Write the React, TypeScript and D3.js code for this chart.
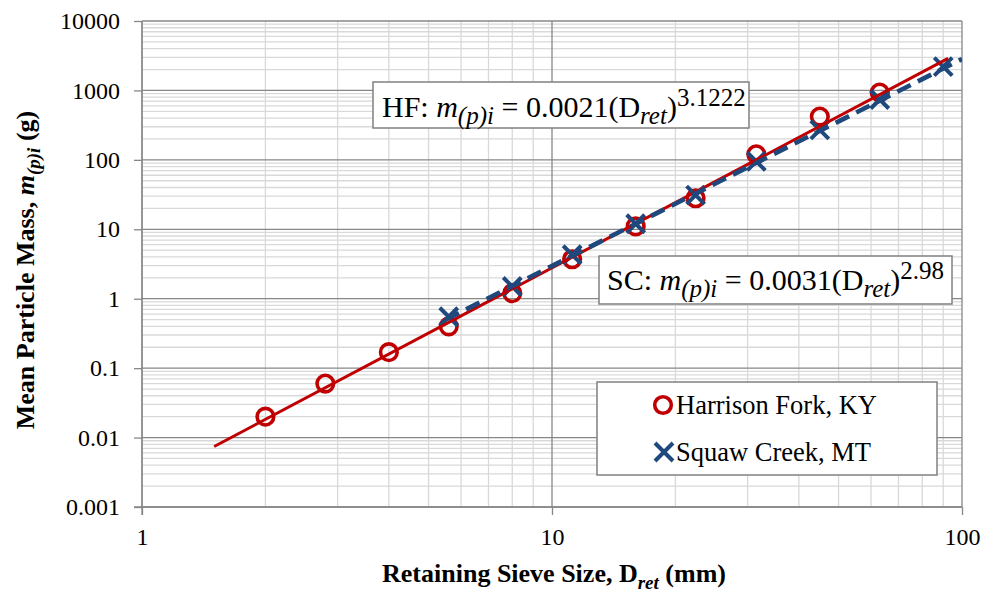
import * as d3 from "d3";
import { useEffect, useRef } from "react";

// Harrison Fork, KY
const hfSize = [2, 2.8, 4, 5.6, 8, 11.2, 16, 22.4, 31.5, 45, 63];
const hfMass = [0.02, 0.06, 0.17, 0.4, 1.2, 3.7, 11, 28, 120, 420, 930];
// Squaw Creek, MT
const scSize = [5.6, 8, 11.2, 16, 22.4, 31.5, 45, 63, 90];
const scMass = [0.55, 1.5, 4.3, 12, 31, 95, 270, 740, 2200];

// power trendlines m = a * D^b, drawn over [from, to]
const hfFit = { a: 0.0021, b: 3.1222, from: 1.5, to: 92.5 };
const scFit = { a: 0.0031, b: 2.98, from: 5.5, to: 100 };

const xTicks = [1, 10, 100];
const xTickLabels = ["1", "10", "100"];
const yTicks = [0.001, 0.01, 0.1, 1, 10, 100, 1000, 10000];
const yTickLabels = ["0.001", "0.01", "0.1", "1", "10", "100", "1000", "10000"];

const RED = "#C00000";
const BLUE = "#1F497D";
const FONT = "Liberation Serif";

type Seg = { t: string; it?: boolean; sub?: boolean; sup?: boolean };

function richText(g: any, x: number, y: number, size: number, segs: Seg[], bold = false, ratio = 0.74) {
   const small = Math.round(size * ratio);
   const text = g
      .append("text")
      .attr("x", x)
      .attr("y", y)
      .style("font-size", size + "px")
      .style("font-family", FONT)
      .style("font-weight", bold ? "bold" : "normal")
      .style("white-space", "pre");
   let shift = 0;
   segs.forEach((s) => {
      const target = s.sub ? size * 0.25 : s.sup ? -size * 0.36 : 0;
      text
         .append("tspan")
         .attr("dy", target - shift)
         .style("font-size", (s.sub || s.sup ? small : size) + "px")
         .style("font-style", s.it ? "italic" : "normal")
         .text(s.t);
      shift = target;
   });
   return text;
}

function App() {
   const ref = useRef<SVGSVGElement>(null);

   useEffect(() => {
      const width = 987;
      const height = 592;
      const margin = { top: 21, right: 25, bottom: 85, left: 142 };
      const innerWidth = width - margin.left - margin.right;
      const innerHeight = height - margin.top - margin.bottom;

      const svg = d3.select(ref.current);
      svg.selectAll("*").remove();
      svg.attr("width", width).attr("height", height).style("font-family", FONT);

      const x = d3.scaleLog().domain([1, 100]).range([0, innerWidth]);
      const y = d3.scaleLog().domain([0.001, 10000]).range([innerHeight, 0]);

      const isMajor = (v: number) => Math.abs(Math.log10(v) - Math.round(Math.log10(v))) < 1e-9;

      const plot = svg
         .append("g")
         .attr("transform", `translate(${margin.left},${margin.top})`);

      plot
         .append("clipPath")
         .attr("id", "plot-clip")
         .append("rect")
         .attr("width", innerWidth)
         .attr("height", innerHeight);

      // minor grid
      const grid = plot.append("g");
      grid
         .selectAll(".vminor")
         .data(x.ticks().filter((v) => !isMajor(v)))
         .enter()
         .append("line")
         .attr("x1", (d) => x(d))
         .attr("x2", (d) => x(d))
         .attr("y1", 0)
         .attr("y2", innerHeight)
         .attr("stroke", "#d9d9d9")
         .attr("stroke-width", 1.3);
      grid
         .selectAll(".hminor")
         .data(y.ticks().filter((v) => !isMajor(v)))
         .enter()
         .append("line")
         .attr("x1", 0)
         .attr("x2", innerWidth)
         .attr("y1", (d) => y(d))
         .attr("y2", (d) => y(d))
         .attr("stroke", "#d9d9d9")
         .attr("stroke-width", 1.3);
      // major grid
      grid
         .selectAll(".vmajor")
         .data(xTicks)
         .enter()
         .append("line")
         .attr("x1", (d) => x(d))
         .attr("x2", (d) => x(d))
         .attr("y1", 0)
         .attr("y2", innerHeight)
         .attr("stroke", "#878787")
         .attr("stroke-width", 1.3);
      grid
         .selectAll(".hmajor")
         .data(yTicks)
         .enter()
         .append("line")
         .attr("x1", 0)
         .attr("x2", innerWidth)
         .attr("y1", (d) => y(d))
         .attr("y2", (d) => y(d))
         .attr("stroke", "#878787")
         .attr("stroke-width", 1.3);

      // axes
      const xAxis = d3
         .axisBottom(x)
         .tickValues(xTicks)
         .tickFormat((d, i) => xTickLabels[i])
         .tickSize(8)
         .tickPadding(13);
      const yAxis = d3
         .axisLeft(y)
         .tickValues(yTicks)
         .tickFormat((d, i) => yTickLabels[i])
         .tickSize(8)
         .tickPadding(14);

      const xAxisG = plot
         .append("g")
         .attr("transform", `translate(0,${innerHeight})`)
         .call(xAxis);
      const yAxisG = plot.append("g").call(yAxis);
      [xAxisG, yAxisG].forEach((g) => {
         g.attr("font-family", null).attr("font-size", null);
         g.selectAll(".domain").remove();
         g.selectAll(".tick line").attr("stroke", "#878787").attr("stroke-width", 1.3);
         g.selectAll(".tick text")
            .style("font-size", "24px")
            .style("font-family", FONT)
            .attr("fill", "#000");
      });
      plot
         .append("line")
         .attr("x1", 0)
         .attr("x2", 0)
         .attr("y1", 0)
         .attr("y2", innerHeight + 8)
         .attr("stroke", "#878787")
         .attr("stroke-width", 1.3);
      plot
         .append("line")
         .attr("x1", -8)
         .attr("x2", innerWidth)
         .attr("y1", innerHeight)
         .attr("y2", innerHeight)
         .attr("stroke", "#878787")
         .attr("stroke-width", 1.3);

      // markers
      const hfPts = hfSize.map((s, i) => [s, hfMass[i]]);
      const scPts = scSize.map((s, i) => [s, scMass[i]]);

      plot
         .selectAll(".hf")
         .data(hfPts)
         .enter()
         .append("circle")
         .attr("cx", (d) => x(d[0]))
         .attr("cy", (d) => y(d[1]))
         .attr("r", 8.3)
         .attr("fill", "none")
         .attr("stroke", RED)
         .attr("stroke-width", 3.6);

      const cross = (g: any, cx: number, cy: number) => {
         const h = 9;
         g.append("path")
            .attr("d", `M${cx - h},${cy - h}L${cx + h},${cy + h}M${cx - h},${cy + h}L${cx + h},${cy - h}`)
            .attr("stroke", BLUE)
            .attr("stroke-width", 4)
            .attr("fill", "none");
      };
      const scG = plot.append("g");
      scPts.forEach((d) => cross(scG, x(d[0]), y(d[1])));

      // trendlines
      const fitPath = (f: typeof hfFit) =>
         d3
            .line<number>()
            .x((d) => x(d))
            .y((d) => y(f.a * Math.pow(d, f.b)))([f.from, f.to]);
      const lines = plot.append("g").attr("clip-path", "url(#plot-clip)");
      lines
         .append("path")
         .attr("d", fitPath(hfFit))
         .attr("fill", "none")
         .attr("stroke", RED)
         .attr("stroke-width", 3);
      lines
         .append("path")
         .attr("d", fitPath(scFit))
         .attr("fill", "none")
         .attr("stroke", BLUE)
         .attr("stroke-width", 4.6)
         .attr("stroke-dasharray", "15,8");

      // equation boxes
      const ann = svg.append("g");
      ann.append("rect")
         .attr("x", 373).attr("y", 82).attr("width", 376).attr("height", 46)
         .attr("fill", "#fff").attr("stroke", "#808080").attr("stroke-width", 1.5);
      richText(ann, 382, 116.5, 30, [
         { t: "HF: " },
         { t: "m", it: true },
         { t: "(p)i", it: true, sub: true },
         { t: " = 0.0021(D" },
         { t: "ret", it: true, sub: true },
         { t: ")" },
         { t: "3.1222", sup: true },
      ], false, 0.83);
      ann.append("rect")
         .attr("x", 599).attr("y", 256).attr("width", 353).attr("height", 48)
         .attr("fill", "#fff").attr("stroke", "#808080").attr("stroke-width", 1.5);
      richText(ann, 607, 289.5, 30, [
         { t: "SC: " },
         { t: "m", it: true },
         { t: "(p)i", it: true, sub: true },
         { t: " = 0.0031(D" },
         { t: "ret", it: true, sub: true },
         { t: ")" },
         { t: "2.98", sup: true },
      ], false, 0.83);

      // legend
      const legend = svg.append("g");
      legend.append("rect")
         .attr("x", 597).attr("y", 382).attr("width", 340).attr("height", 93)
         .attr("fill", "#fff").attr("stroke", "#808080").attr("stroke-width", 1.5);
      legend.append("circle")
         .attr("cx", 663).attr("cy", 405).attr("r", 8.3)
         .attr("fill", "none").attr("stroke", RED).attr("stroke-width", 3.6);
      legend.append("text")
         .attr("x", 676).attr("y", 413.5)
         .style("font-size", "26.5px").style("font-family", FONT)
         .text("Harrison Fork, KY");
      cross(legend, 664, 452);
      legend.append("text")
         .attr("x", 676).attr("y", 460.5)
         .style("font-size", "26.5px").style("font-family", FONT)
         .text("Squaw Creek, MT");

      // axis titles
      const xTitle = richText(svg, 0, 582, 26, [
         { t: "Retaining Sieve Size, D" },
         { t: "ret", it: true, sub: true },
         { t: " (mm)" },
      ], true);
      const xw = (xTitle.node() as SVGTextElement).getComputedTextLength();
      xTitle.attr("x", margin.left + innerWidth / 2 - xw / 2 + 2);

      const yTitle = richText(svg, 0, 0, 26, [
         { t: "Mean Particle Mass, " },
         { t: "m", it: true },
         { t: "(p)i", it: true, sub: true },
         { t: " (g)" },
      ], true);
      const yw = (yTitle.node() as SVGTextElement).getComputedTextLength();
      yTitle.attr(
         "transform",
         `translate(33.5,${margin.top + innerHeight / 2 + yw / 2 + 6}) rotate(-90)`
      );
   }, []);

   return (
      <div style={{ position: "absolute", left: 0, top: 0 }}>
         <svg ref={ref} style={{ display: "block" }}></svg>
      </div>
   );
}

export default App;
